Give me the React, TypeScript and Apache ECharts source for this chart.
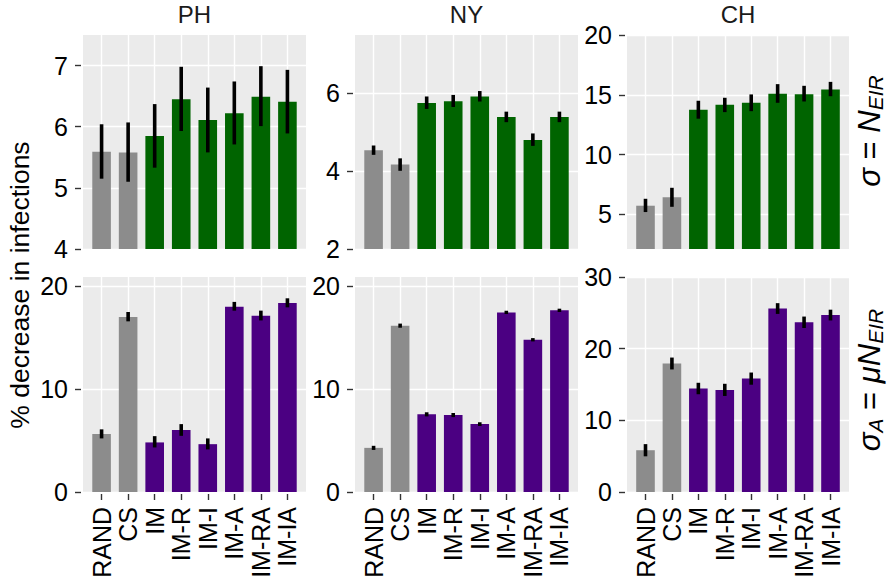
import React, { useEffect, useRef } from "react";
import * as echarts from "echarts";

const categories = ["RAND", "CS", "IM", "IM-R", "IM-I", "IM-A", "IM-RA", "IM-IA"];
const regions = ["PH", "NY", "CH"];

// Row 1: sigma = N_EIR
const phTopMean = [5.59, 5.58, 5.85, 6.45, 6.11, 6.22, 6.49, 6.41];
const phTopLow = [5.15, 5.1, 5.33, 5.93, 5.58, 5.71, 6.01, 5.89];
const phTopHigh = [6.04, 6.07, 6.37, 6.98, 6.64, 6.74, 6.99, 6.93];
const nyTopMean = [4.54, 4.17, 5.75, 5.8, 5.92, 5.39, 4.8, 5.39];
const nyTopLow = [4.42, 4.01, 5.6, 5.65, 5.79, 5.26, 4.65, 5.26];
const nyTopHigh = [4.66, 4.33, 5.92, 5.96, 6.06, 5.53, 4.97, 5.53];
const chTopMean = [5.72, 6.42, 13.75, 14.17, 14.33, 15.08, 15.05, 15.44];
const chTopLow = [5.19, 5.63, 13.0, 13.55, 13.63, 14.33, 14.44, 14.88];
const chTopHigh = [6.3, 7.22, 14.5, 14.75, 15.03, 15.89, 15.75, 16.08];

// Row 2: sigma_A = mu N_EIR
const phBotMean = [5.63, 17.0, 4.82, 6.02, 4.65, 18.02, 17.14, 18.38];
const phBotLow = [5.21, 16.59, 4.33, 5.46, 4.14, 17.63, 16.68, 17.95];
const phBotHigh = [6.09, 17.5, 5.43, 6.6, 5.21, 18.48, 17.63, 18.83];
const nyBotMean = [4.29, 16.17, 7.55, 7.48, 6.6, 17.46, 14.8, 17.66];
const nyBotLow = [4.09, 15.97, 7.35, 7.28, 6.42, 17.3, 14.64, 17.5];
const nyBotHigh = [4.49, 16.37, 7.75, 7.68, 6.78, 17.62, 14.96, 17.82];
const chBotMean = [5.83, 17.93, 14.44, 14.25, 15.82, 25.6, 23.68, 24.69];
const chBotLow = [4.98, 17.1, 13.64, 13.4, 14.97, 24.85, 22.88, 23.94];
const chBotHigh = [6.68, 18.76, 15.24, 15.1, 16.67, 26.35, 24.48, 25.44];

const topMin = [4, 2, 2.1];
const topMax = [7.5, 7.5, 20];
const botMin = [0, 0, 0];
const botMax = [20.9, 20.9, 30];
const phTopTicks = [4, 5, 6, 7];
const nyTopTicks = [2, 4, 6];
const chTopTicks = [5, 10, 15, 20];
const phBotTicks = [0, 10, 20];
const nyBotTicks = [0, 10, 20];
const chBotTicks = [0, 10, 20, 30];

const yTitle = "% decrease in infections";

const FONT = "'Liberation Sans', Arial, Helvetica, sans-serif";
const GREY = "#8C8C8C";
const GREEN = "#006400";
const PURPLE = "#4B0082";

export default function App() {
  const ref = useRef<HTMLDivElement>(null);

  useEffect(() => {
    if (!ref.current) return;
    const chart = echarts.init(ref.current, null, { renderer: "svg" });

    const panelLeft = [83, 355, 627];
    const panelWidth = [223, 223, 222];
    const rowTop = [35, 277];
    const rowHeight = [214, 215];

    const rows = [
      {
        means: [phTopMean, nyTopMean, chTopMean],
        lows: [phTopLow, nyTopLow, chTopLow],
        highs: [phTopHigh, nyTopHigh, chTopHigh],
        mins: topMin,
        maxs: topMax,
        ticks: [phTopTicks, nyTopTicks, chTopTicks],
        color: GREEN,
      },
      {
        means: [phBotMean, nyBotMean, chBotMean],
        lows: [phBotLow, nyBotLow, chBotLow],
        highs: [phBotHigh, nyBotHigh, chBotHigh],
        mins: botMin,
        maxs: botMax,
        ticks: [phBotTicks, nyBotTicks, chBotTicks],
        color: PURPLE,
      },
    ];

    const catIdx = categories.map((_, i) => i);
    const grids: any[] = [];
    const xAxes: any[] = [];
    const yAxes: any[] = [];
    const series: any[] = [];

    rows.forEach((row, r) => {
      regions.forEach((_, c) => {
        const k = grids.length;
        grids.push({
          show: true,
          left: panelLeft[c],
          top: rowTop[r],
          width: panelWidth[c],
          height: rowHeight[r],
          backgroundColor: "#EBEBEB",
          borderWidth: 0,
          containLabel: false,
          outerBoundsMode: "none",
        });
        const isBottom = r === 1;
        xAxes.push({
          type: "value",
          gridIndex: k,
          position: "bottom",
          min: -0.7,
          max: 7.7,
          offset: 2,
          axisLine: { show: false, onZero: false },
          axisTick: {
            show: isBottom,
            inside: false,
            customValues: catIdx,
            length: 6,
            lineStyle: { color: "#333333", width: 1.4 },
          },
          axisLabel: {
            show: isBottom,
            customValues: catIdx,
            formatter: (v: number) => categories[Math.round(v)] ?? "",
            rotate: 90,
            margin: 13,
            fontSize: 25,
            color: "#000",
            fontFamily: FONT,
          },
          splitLine: { show: true, lineStyle: { color: "#FFFFFF", width: 1.4 } },
        });
        yAxes.push({
          type: "value",
          gridIndex: k,
          position: "left",
          min: row.mins[c],
          max: row.maxs[c],
          offset: 2,
          axisLine: { show: false, onZero: false },
          axisTick: {
            show: true,
            inside: false,
            customValues: row.ticks[c],
            length: 6,
            lineStyle: { color: "#333333", width: 1.4 },
          },
          axisLabel: {
            customValues: row.ticks[c],
            margin: 13,
            fontSize: 25,
            color: "#000",
            fontFamily: FONT,
          },
          splitLine: { show: true, lineStyle: { color: "#FFFFFF", width: 1.4 } },
        });
        const mean = row.means[c];
        const low = row.lows[c];
        const high = row.highs[c];
        series.push({
          type: "bar",
          name: regions[c] + (r === 0 ? " σ=N_EIR" : " σA=μN_EIR"),
          xAxisIndex: k,
          yAxisIndex: k,
          barWidth: 18.6,
          clip: true,
          data: categories.map((_, j) => ({
            value: [j, mean[j]],
            itemStyle: { color: j < 2 ? GREY : row.color },
          })),
        });
        series.push({
          type: "custom",
          name: regions[c] + " error " + r,
          xAxisIndex: k,
          yAxisIndex: k,
          z: 5,
          encode: { x: 0, y: [1, 2] },
          data: categories.map((_, j) => [j, low[j], high[j]]),
          renderItem: (_p: any, api: any) => {
            const x = api.value(0);
            const a = api.coord([x, api.value(1)]);
            const b = api.coord([x, api.value(2)]);
            return {
              type: "line",
              shape: { x1: a[0], y1: a[1], x2: b[0], y2: b[1] },
              style: { stroke: "#000", lineWidth: 3.6 },
            };
          },
        });
      });
    });

    const graphic: any[] = [];
    regions.forEach((name, c) => {
      graphic.push({
        type: "text",
        x: panelLeft[c] + panelWidth[c] / 2,
        y: 14,
        style: {
          text: name,
          fontSize: 24,
          fontFamily: FONT,
          fill: "#1A1A1A",
          align: "center",
          verticalAlign: "middle",
        },
      });
    });
    graphic.push({
      type: "text",
      x: 20,
      y: 285,
      rotation: Math.PI / 2,
      style: {
        text: yTitle,
        fontSize: 26.5,
        fontFamily: FONT,
        fill: "#000",
        align: "center",
        verticalAlign: "middle",
      },
    });
    const rich = {
      g: { fontSize: 31, fontStyle: "italic", fontFamily: FONT, fill: "#000" },
      e: { fontSize: 31, fontFamily: FONT, fill: "#000" },
      s: {
        fontSize: 21,
        fontStyle: "italic",
        fontFamily: FONT,
        fill: "#000",
        verticalAlign: "top",
        padding: [13, 0, 0, 0],
      },
    };
    graphic.push({
      type: "text",
      x: 869,
      y: 131,
      rotation: Math.PI / 2,
      style: {
        text: "{g|σ}{e| = }{g|N}{s|EIR}",
        rich,
        align: "center",
        verticalAlign: "middle",
      },
    });
    graphic.push({
      type: "text",
      x: 869,
      y: 380,
      rotation: Math.PI / 2,
      style: {
        text: "{g|σ}{s|A}{e| = }{g|μN}{s|EIR}",
        rich,
        align: "center",
        verticalAlign: "middle",
      },
    });

    chart.setOption({
      animation: false,
      backgroundColor: "#FFFFFF",
      textStyle: { fontFamily: FONT },
      grid: grids,
      xAxis: xAxes,
      yAxis: yAxes,
      series,
      graphic,
    });

    return () => chart.dispose();
  }, []);

  return (
    <div
      ref={ref}
      style={{ position: "fixed", left: 0, top: 0, width: 891, height: 582 }}
    />
  );
}
